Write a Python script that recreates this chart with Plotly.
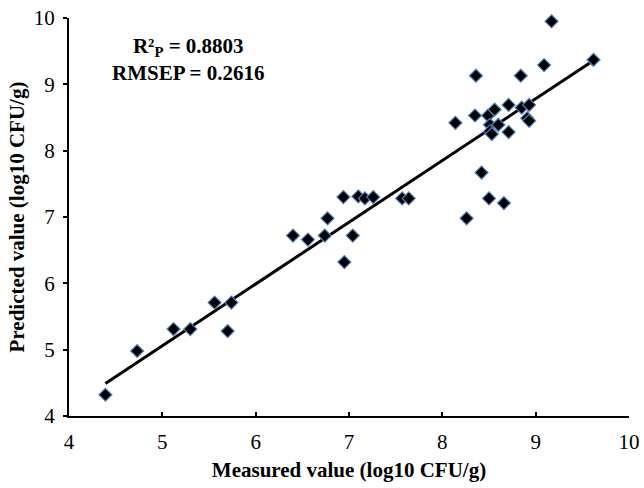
import plotly.graph_objects as go

measured = [4.39, 4.73, 5.12, 5.30, 5.56, 5.74, 5.70, 6.40, 6.56, 6.74, 6.77, 7.04, 6.95,
            6.94, 7.10, 7.17, 7.26, 7.57, 7.64, 8.26, 8.42, 8.50, 8.66, 8.14, 8.35, 8.49,
            8.56, 8.71, 8.85, 8.93, 8.91, 8.93, 8.51, 8.60, 8.51, 8.53, 8.71, 8.36, 8.84,
            9.09, 9.17, 9.62]
predicted = [4.32, 4.98, 5.31, 5.31, 5.71, 5.71, 5.28, 6.72, 6.66, 6.72, 6.98, 6.72, 6.32,
             7.30, 7.31, 7.28, 7.30, 7.28, 7.28, 6.98, 7.67, 7.28, 7.21, 8.42, 8.53, 8.53,
             8.62, 8.69, 8.65, 8.69, 8.49, 8.45, 8.39, 8.39, 8.29, 8.25, 8.28, 9.13, 9.13,
             9.29, 9.95, 9.37]

fit_slope = 0.931
fit_intercept = 0.404
x_ticks = [4, 5, 6, 7, 8, 9, 10]
y_ticks = [4, 5, 6, 7, 8, 9, 10]
annotation_lines = ["R²<sub>P</sub> = 0.8803", "RMSEP = 0.2616"]

font = "Liberation Serif"
fsize = 21

xmin, xmax = min(measured), max(measured)
line_x = [xmin, xmax]
line_y = [fit_intercept + fit_slope * v for v in line_x]

fig = go.Figure()
fig.add_trace(go.Scatter(x=line_x, y=line_y, mode="lines",
                         line=dict(color="black", width=3), showlegend=False,
                         hoverinfo="skip", cliponaxis=False))
fig.add_trace(go.Scatter(x=measured, y=predicted, mode="markers",
                         marker=dict(symbol="diamond", size=10, color="black",
                                     line=dict(color="#4f81bd", width=1.2)),
                         showlegend=False, cliponaxis=False))

fig.add_annotation(x=0.2125, y=0.895, xref="paper", yref="paper",
                   xanchor="center", yanchor="middle",
                   text="<b>" + "<br>".join(annotation_lines) + "</b>",
                   showarrow=False, align="center",
                   font=dict(family=font, size=fsize, color="black"))

axis_common = dict(showgrid=False, zeroline=False, showline=True, linecolor="black",
                   linewidth=2, ticklen=4, tickwidth=2, tickcolor="black",
                   tickfont=dict(family=font, size=fsize, color="black"),
                   mirror=False, automargin=False,
                   tickprefix="<b>", ticksuffix="</b>")

fig.update_xaxes(range=[4, 10], tickvals=x_ticks, ticktext=[str(t) for t in x_ticks],
                 ticks="inside", ticklabelstandoff=6,
                 title=dict(text="<b>Measured value (log10 CFU/g)</b>", standoff=9,
                            font=dict(family=font, size=fsize, color="black")),
                 **axis_common)
fig.update_yaxes(range=[4, 10], tickvals=y_ticks, ticktext=[str(t) for t in y_ticks],
                 ticks="outside", ticklabelstandoff=4,
                 title=dict(text="<b>Predicted value (log10 CFU/g)</b>", standoff=3,
                            font=dict(family=font, size=fsize, color="black")),
                 **axis_common)

fig.update_layout(width=644, height=488,
                  margin=dict(l=69, r=15, t=18, b=72, autoexpand=False),
                  plot_bgcolor="white", paper_bgcolor="white")

fig.write_html("out.html", config={"displayModeBar": False},
               post_script="document.body.style.margin='0';document.body.style.padding='0';")
